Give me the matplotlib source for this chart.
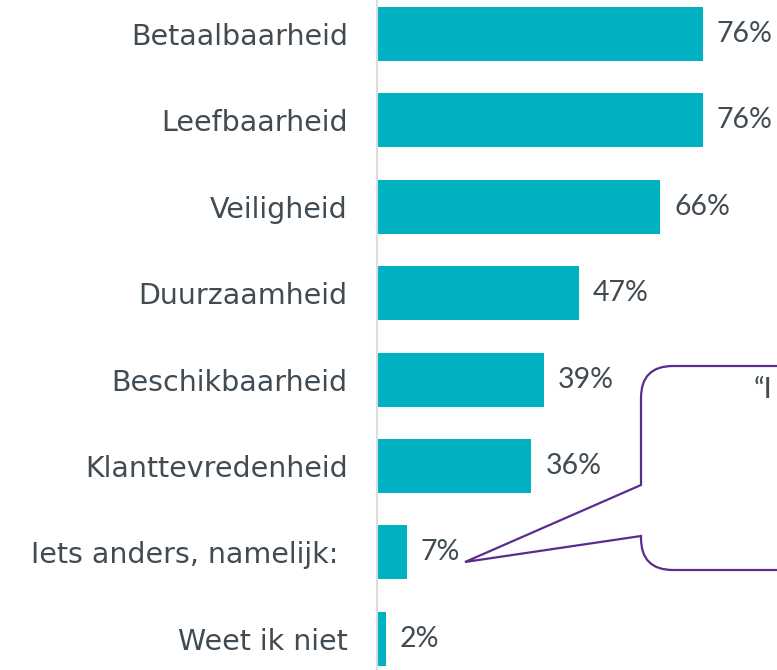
import matplotlib
matplotlib.use("Agg")
import matplotlib.pyplot as plt
from matplotlib.path import Path
from matplotlib.patches import PathPatch

# data
categories = ["Betaalbaarheid", "Leefbaarheid", "Veiligheid", "Duurzaamheid",
              "Beschikbaarheid", "Klanttevredenheid", "Iets anders, namelijk: ", "Weet ik niet"]
values = [76, 76, 66, 47, 39, 36, 7, 2]
quote_text = "\u201cI"

bar_color = "#00B2C1"
text_color = "#404B53"
callout_color = "#5B2C8E"

plt.rcParams["font.family"] = ["DejaVu Sans"]

W, H = 777, 670
fig = plt.figure(figsize=(W / 100, H / 100), dpi=100)

# axes: left edge at the grey axis line, rows 86.4 px apart
x0 = 377
ax = fig.add_axes([x0 / W, 0, 1 - x0 / W, 1])
rows = range(len(categories))
ax.barh(rows, values, height=0.625, color=bar_color)
ax.set_xlim(0, (W - x0) / 4.29)
ax.set_ylim((H - 34) / 86.4, -34 / 86.4)

for i, v in zip(rows, values):
    ax.annotate(f"{v}%", (v, i), xytext=(10, 0), textcoords="offset points",
                va="center", ha="left", fontsize=20.5, color=text_color,
                family=["Lato", "DejaVu Sans"])

ax.set_yticks(list(rows))
ax.set_yticklabels(categories, fontsize=20.5, color=text_color)
ax.tick_params(axis="y", length=0, pad=21)
ax.set_xticks([])
for s in ["top", "right", "bottom"]:
    ax.spines[s].set_visible(False)
ax.spines["left"].set_color("#DADDE0")
ax.spines["left"].set_linewidth(1.5)

# callout box in pixel coordinates
ov = fig.add_axes([0, 0, 1, 1], facecolor="none")
ov.set_xlim(0, W)
ov.set_ylim(H, 0)
ov.axis("off")
L, T, B, R, r = 641, 366, 570, 840, 32
verts = [(R, T), (L + r, T), (L, T), (L, T + r), (L, 485), (465, 562), (L, 536),
         (L, B - r), (L, B), (L + r, B), (R, B)]
codes = [Path.MOVETO, Path.LINETO, Path.CURVE3, Path.CURVE3, Path.LINETO, Path.LINETO,
         Path.LINETO, Path.LINETO, Path.CURVE3, Path.CURVE3, Path.LINETO]
ov.add_patch(PathPatch(Path(verts, codes), facecolor="white", edgecolor=callout_color,
                       lw=1.6, clip_on=False))
ov.text(754, 390, quote_text, fontsize=21, color=text_color, va="center", ha="left",
        family=["Lato", "DejaVu Sans"])

fig.savefig("out.png", dpi=100)
